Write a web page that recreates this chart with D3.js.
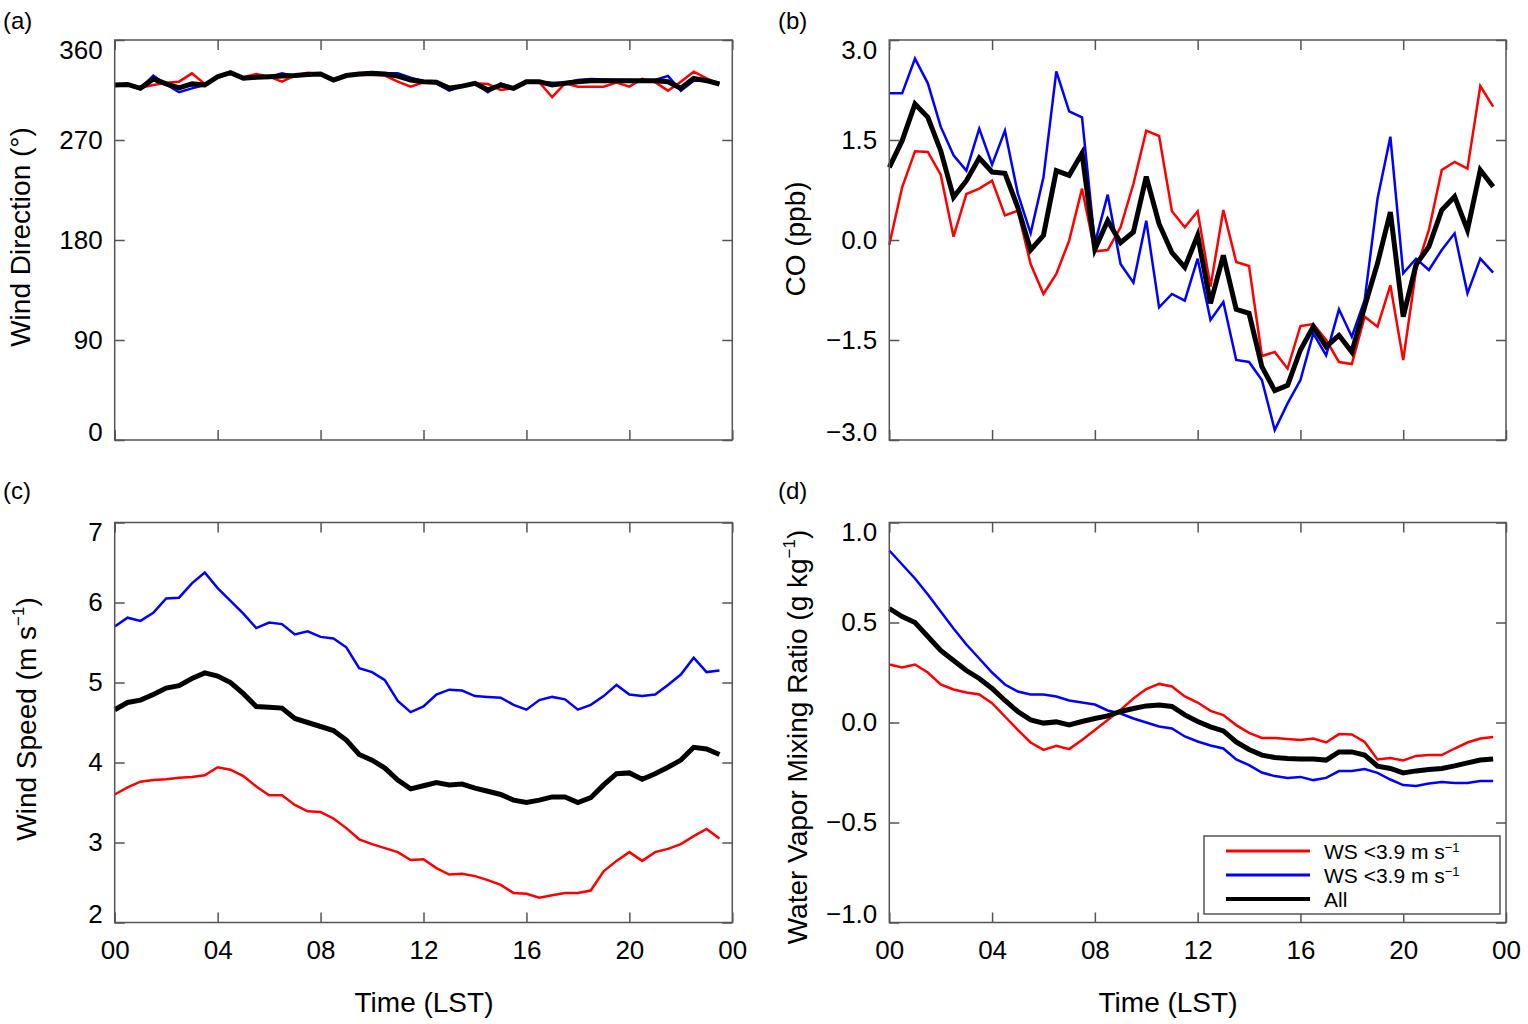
<!DOCTYPE html>
<html>
<head>
<meta charset="utf-8">
<script src="https://cdn.jsdelivr.net/npm/d3@7"></script>
<style>
  body { margin: 0; background: #fff; }
  svg { display: block; font-family: "Liberation Sans", Arial, Helvetica, sans-serif; }
</style>
</head>
<body>
<div id="chart"></div>
<script>
// half-hourly local time (LST)
const times = [0, 0.5, 1, 1.5, 2, 2.5, 3, 3.5, 4, 4.5, 5, 5.5, 6, 6.5, 7, 7.5,
  8, 8.5, 9, 9.5, 10, 10.5, 11, 11.5, 12, 12.5, 13, 13.5, 14, 14.5, 15, 15.5,
  16, 16.5, 17, 17.5, 18, 18.5, 19, 19.5, 20, 20.5, 21, 21.5, 22, 22.5, 23, 23.5];

const xTicks = [0, 4, 8, 12, 16, 20, 24];
const xTickLabels = ['00', '04', '08', '12', '16', '20', '00'];

const seriesNames = ['WS <3.9 m s', 'WS <3.9 m s', 'All'];

// (a) wind direction
const wdRed = [319, 319.5, 317, 319.5, 321.5, 322.5, 330, 320.5, 326, 330, 326.5, 329.4, 327, 322.5, 328, 330.6,
  329.5, 324, 328, 328.5, 328.5, 328, 322.5, 318, 322, 322.5, 318, 318, 321, 320.5, 315, 316.5,
  322, 322, 308.5, 321, 318, 318, 318, 321.6, 318, 325, 322, 314.4, 322.5, 331.5, 325.5, 320.5];
const wdBlue = [319.5, 320, 316.5, 328, 320, 313, 316.5, 319.5, 327, 330.5, 325.5, 326, 326.5, 330, 327.5, 329,
  329.4, 324, 328, 329.5, 330, 330, 330, 326, 323, 321, 314.5, 318.5, 321, 313, 321, 316.5,
  322.5, 322.5, 321.6, 321.5, 324, 325, 324.5, 324, 324, 323.5, 324, 327.6, 314.4, 323.4, 323.4, 320.5];
const wdAll = [319.5, 320, 316.5, 325, 320.5, 317, 320.5, 319.5, 327, 330.6, 325.5, 326.4, 327, 327.6, 328, 329,
  329.4, 324, 328, 329.4, 330, 329.4, 327.6, 324, 322.5, 322, 316.5, 318.5, 321, 315, 319.5, 316.5,
  322.5, 322.5, 319.5, 321, 322.5, 323.4, 323.4, 323.4, 323.4, 323.4, 323.4, 322.5, 316.5, 325.5, 323.4, 320.4];

// (b) CO anomaly
const coRed = [-0.07, 0.79, 1.33, 1.32, 0.98, 0.05, 0.69, 0.77, 0.89, 0.37, 0.44, -0.36, -0.81, -0.51, -0.01, 0.77,
  -0.17, -0.15, 0.19, 0.84, 1.64, 1.56, 0.43, 0.19, 0.43, -0.7, 0.45, -0.33, -0.39, -1.74, -1.68, -1.93,
  -1.29, -1.26, -1.5, -1.83, -1.86, -1.15, -1.3, -0.68, -1.8, -0.45, 0.15, 1.05, 1.17, 1.07, 2.31, 2.0];
const coBlue = [2.2, 2.2, 2.72, 2.35, 1.7, 1.27, 1.04, 1.67, 1.13, 1.64, 0.7, 0.1, 0.94, 2.53, 1.93, 1.84,
  -0.05, 0.68, -0.36, -0.64, 0.29, -1.01, -0.81, -0.91, -0.28, -1.2, -0.93, -1.8, -1.83, -2.1, -2.85, -2.45,
  -2.1, -1.4, -1.73, -1.04, -1.45, -0.9, 0.62, 1.55, -0.5, -0.28, -0.45, -0.15, 0.1, -0.8, -0.28, -0.49];
const coAll = [1.09, 1.49, 2.04, 1.84, 1.34, 0.64, 0.89, 1.23, 1.02, 1.0, 0.49, -0.15, 0.07, 1.04, 0.97, 1.3,
  -0.14, 0.29, -0.04, 0.12, 0.95, 0.24, -0.19, -0.41, 0.07, -0.95, -0.23, -1.04, -1.1, -1.9, -2.26, -2.18,
  -1.65, -1.3, -1.6, -1.43, -1.68, -1.0, -0.35, 0.42, -1.15, -0.37, -0.1, 0.45, 0.65, 0.15, 1.05, 0.8];

// (c) wind speed
const wsRed = [3.6, 3.69, 3.76, 3.78, 3.79, 3.81, 3.82, 3.84, 3.94, 3.91, 3.83, 3.7, 3.59, 3.59, 3.47, 3.39,
  3.38, 3.3, 3.18, 3.04, 2.98, 2.93, 2.88, 2.78, 2.79, 2.68, 2.6, 2.61, 2.58, 2.53, 2.47, 2.37,
  2.36, 2.31, 2.34, 2.37, 2.37, 2.4, 2.64, 2.77, 2.88, 2.77, 2.88, 2.92, 2.98, 3.08, 3.17, 3.05];
const wsBlue = [5.7, 5.81, 5.77, 5.87, 6.05, 6.06, 6.24, 6.375, 6.18, 6.02, 5.86, 5.68, 5.75, 5.73, 5.6, 5.64,
  5.57, 5.55, 5.44, 5.18, 5.13, 5.03, 4.77, 4.63, 4.7, 4.85, 4.91, 4.9, 4.83, 4.82, 4.81, 4.72,
  4.66, 4.78, 4.82, 4.79, 4.66, 4.72, 4.83, 4.97, 4.85, 4.83, 4.85, 4.97, 5.1, 5.31, 5.13, 5.15];
const wsAll = [4.66, 4.75, 4.78, 4.85, 4.93, 4.96, 5.05, 5.12, 5.08, 5.0, 4.86, 4.7, 4.69, 4.68, 4.55, 4.5,
  4.45, 4.4, 4.28, 4.1, 4.03, 3.93, 3.78, 3.67, 3.71, 3.75, 3.72, 3.73, 3.68, 3.64, 3.6, 3.53,
  3.5, 3.53, 3.57, 3.57, 3.5, 3.56, 3.72, 3.86, 3.87, 3.79, 3.86, 3.94, 4.03, 4.19, 4.17, 4.1];

// (d) water vapour mixing ratio
const wvRed = [0.29, 0.275, 0.29, 0.25, 0.19, 0.165, 0.15, 0.14, 0.097, 0.03, -0.037, -0.1, -0.137, -0.117, -0.133, -0.087,
  -0.037, 0.013, 0.063, 0.12, 0.167, 0.193, 0.18, 0.13, 0.1, 0.058, 0.037, -0.013, -0.052, -0.077, -0.077, -0.083,
  -0.088, -0.08, -0.1, -0.058, -0.06, -0.097, -0.185, -0.177, -0.19, -0.167, -0.163, -0.163, -0.13, -0.1, -0.08, -0.072];
const wvBlue = [0.86, 0.79, 0.72, 0.64, 0.555, 0.47, 0.39, 0.32, 0.25, 0.19, 0.155, 0.14, 0.14, 0.13, 0.11, 0.1,
  0.09, 0.06, 0.045, 0.02, 0.0, -0.02, -0.03, -0.07, -0.095, -0.115, -0.13, -0.185, -0.213, -0.25, -0.268, -0.277,
  -0.272, -0.288, -0.277, -0.243, -0.242, -0.233, -0.252, -0.285, -0.313, -0.318, -0.305, -0.297, -0.302, -0.302, -0.293, -0.293];
const wvAll = [0.57, 0.53, 0.5, 0.43, 0.36, 0.31, 0.26, 0.22, 0.17, 0.11, 0.055, 0.013, -0.003, 0.003, -0.012, 0.005,
  0.02, 0.033, 0.055, 0.07, 0.083, 0.088, 0.08, 0.038, 0.005, -0.022, -0.042, -0.097, -0.135, -0.163, -0.175, -0.18,
  -0.182, -0.183, -0.188, -0.147, -0.147, -0.163, -0.218, -0.23, -0.252, -0.242, -0.235, -0.23, -0.217, -0.202, -0.188, -0.183];

const colors = ['#ff0000', '#0000ff', '#000000'];
const widths = [2.5, 2.5, 5];
const axisColor = '#555';

const W = 1528, H = 1024;
const svg = d3.select('#chart').append('svg')
  .attr('width', W)
  .attr('height', H);

svg.append('rect').attr('width', W).attr('height', H).attr('fill', '#fff');

const panels = [
  { tag: '(a)', tagX: 3, tagY: 29, left: 114.7, right: 732.3, top: 40, bottom: 440,
    domain: [0, 360], ticks: [0, 90, 180, 270, 360], fmt: d3.format('d'),
    data: [wdRed, wdBlue, wdAll], xLabels: false,
    yTitle: ['Wind Direction (°)'], yTitleX: 30, yTitleY: 237 },
  { tag: '(b)', tagX: 778, tagY: 29, left: 889.3, right: 1506, top: 40, bottom: 440,
    domain: [-3, 3], ticks: [-3, -1.5, 0, 1.5, 3], fmt: d => d3.format('.1f')(d).replace('-', '\u2212'),
    data: [coRed, coBlue, coAll], xLabels: false,
    yTitle: ['CO (ppb)'], yTitleX: 805, yTitleY: 239 },
  { tag: '(c)', tagX: 3, tagY: 499, left: 114.7, right: 732.3, top: 522.5, bottom: 922.5,
    domain: [2, 7], ticks: [2, 3, 4, 5, 6, 7], fmt: d3.format('d'),
    data: [wsRed, wsBlue, wsAll], xLabels: true, xTitleX: 424,
    yTitle: ['Wind Speed (m s', ')'], yTitleX: 36, yTitleY: 719 },
  { tag: '(d)', tagX: 778, tagY: 499, left: 889.3, right: 1506, top: 522.5, bottom: 922.5,
    domain: [-1, 1], ticks: [-1, -0.5, 0, 0.5, 1], fmt: d => d3.format('.1f')(d).replace('-', '\u2212'),
    data: [wvRed, wvBlue, wvAll], xLabels: true, xTitleX: 1168,
    yTitle: ['Water Vapor Mixing Ratio (g kg', ')'], yTitleX: 807, yTitleY: 737 }
];

function styleAxis(g) {
  g.select('.domain').remove();
  g.selectAll('.tick line').attr('stroke', axisColor).attr('stroke-width', 1.5);
  g.selectAll('.tick text').attr('fill', '#000').style('font-size', '26px');
}

function drawPanel(p) {
  const x = d3.scaleLinear().domain([0, 24]).range([p.left, p.right]);
  const y = d3.scaleLinear().domain(p.domain).range([p.bottom, p.top]);
  const g = svg.append('g');

  const line = d3.line()
    .x((d, i) => x(times[i]))
    .y(d => y(d));

  p.data.forEach((vals, k) => {
    g.append('path')
      .datum(vals)
      .attr('d', line)
      .attr('fill', 'none')
      .attr('stroke', colors[k])
      .attr('stroke-width', widths[k]);
  });

  // box
  g.append('rect')
    .attr('x', p.left).attr('y', p.top)
    .attr('width', p.right - p.left).attr('height', p.bottom - p.top)
    .attr('fill', 'none')
    .attr('stroke', axisColor)
    .attr('stroke-width', 1.5);

  // y axis, left with labels
  const yl = g.append('g')
    .attr('transform', `translate(${p.left},0)`)
    .call(d3.axisLeft(y).tickValues(p.ticks).tickSize(-10).tickPadding(12).tickFormat(p.fmt))
    .call(styleAxis);
  // end labels sit inside the frame
  const lo = p.domain[0], hi = p.domain[1];
  yl.selectAll('.tick text')
    .attr('dy', d => d === hi ? '0.71em' : (d === lo ? '0em' : '0.32em'));

  g.append('g')
    .attr('transform', `translate(${p.right},0)`)
    .call(d3.axisRight(y).tickValues(p.ticks).tickSize(-10).tickFormat(''))
    .call(styleAxis);

  g.append('g')
    .attr('transform', `translate(0,${p.top})`)
    .call(d3.axisTop(x).tickValues(xTicks).tickSize(-10).tickFormat(''))
    .call(styleAxis);

  g.append('g')
    .attr('transform', `translate(0,${p.bottom})`)
    .call(d3.axisBottom(x).tickValues(xTicks).tickSize(-10).tickPadding(18)
      .tickFormat(p.xLabels ? (d, i) => xTickLabels[i] : ''))
    .call(styleAxis);

  // panel tag
  svg.append('text')
    .attr('x', p.tagX).attr('y', p.tagY)
    .style('font-size', '24px')
    .text(p.tag);

  // y title (rotated)
  const yt = svg.append('text')
    .attr('transform', `translate(${p.yTitleX},${p.yTitleY}) rotate(-90)`)
    .attr('text-anchor', 'middle')
    .style('font-size', '28px');
  yt.append('tspan').text(p.yTitle[0]);
  if (p.yTitle.length > 1) {
    yt.append('tspan').attr('dy', -12).style('font-size', '17px').text('\u22121');
    yt.append('tspan').attr('dy', 12).text(p.yTitle[1]);
  }

  if (p.xLabels) {
    svg.append('text')
      .attr('x', p.xTitleX).attr('y', 1012)
      .attr('text-anchor', 'middle')
      .style('font-size', '28px')
      .text('Time (LST)');
  }
}

panels.forEach(drawPanel);

// legend in panel (d)
const legend = svg.append('g');
legend.append('rect')
  .attr('x', 1204).attr('y', 836)
  .attr('width', 296).attr('height', 78)
  .attr('fill', '#fff')
  .attr('stroke', axisColor)
  .attr('stroke-width', 1.5);

const legendRows = [851, 875, 899];
seriesNames.forEach((name, k) => {
  const ly = legendRows[k];
  legend.append('line')
    .attr('x1', 1226).attr('x2', 1310)
    .attr('y1', ly).attr('y2', ly)
    .attr('stroke', colors[k])
    .attr('stroke-width', k === 2 ? 4 : 3);
  const t = legend.append('text')
    .attr('x', 1324).attr('y', ly + 8)
    .style('font-size', '21px');
  t.append('tspan').text(name);
  if (k < 2) {
    t.append('tspan').attr('dy', -7).style('font-size', '13px').text('\u22121');
  }
});
</script>
</body>
</html>
